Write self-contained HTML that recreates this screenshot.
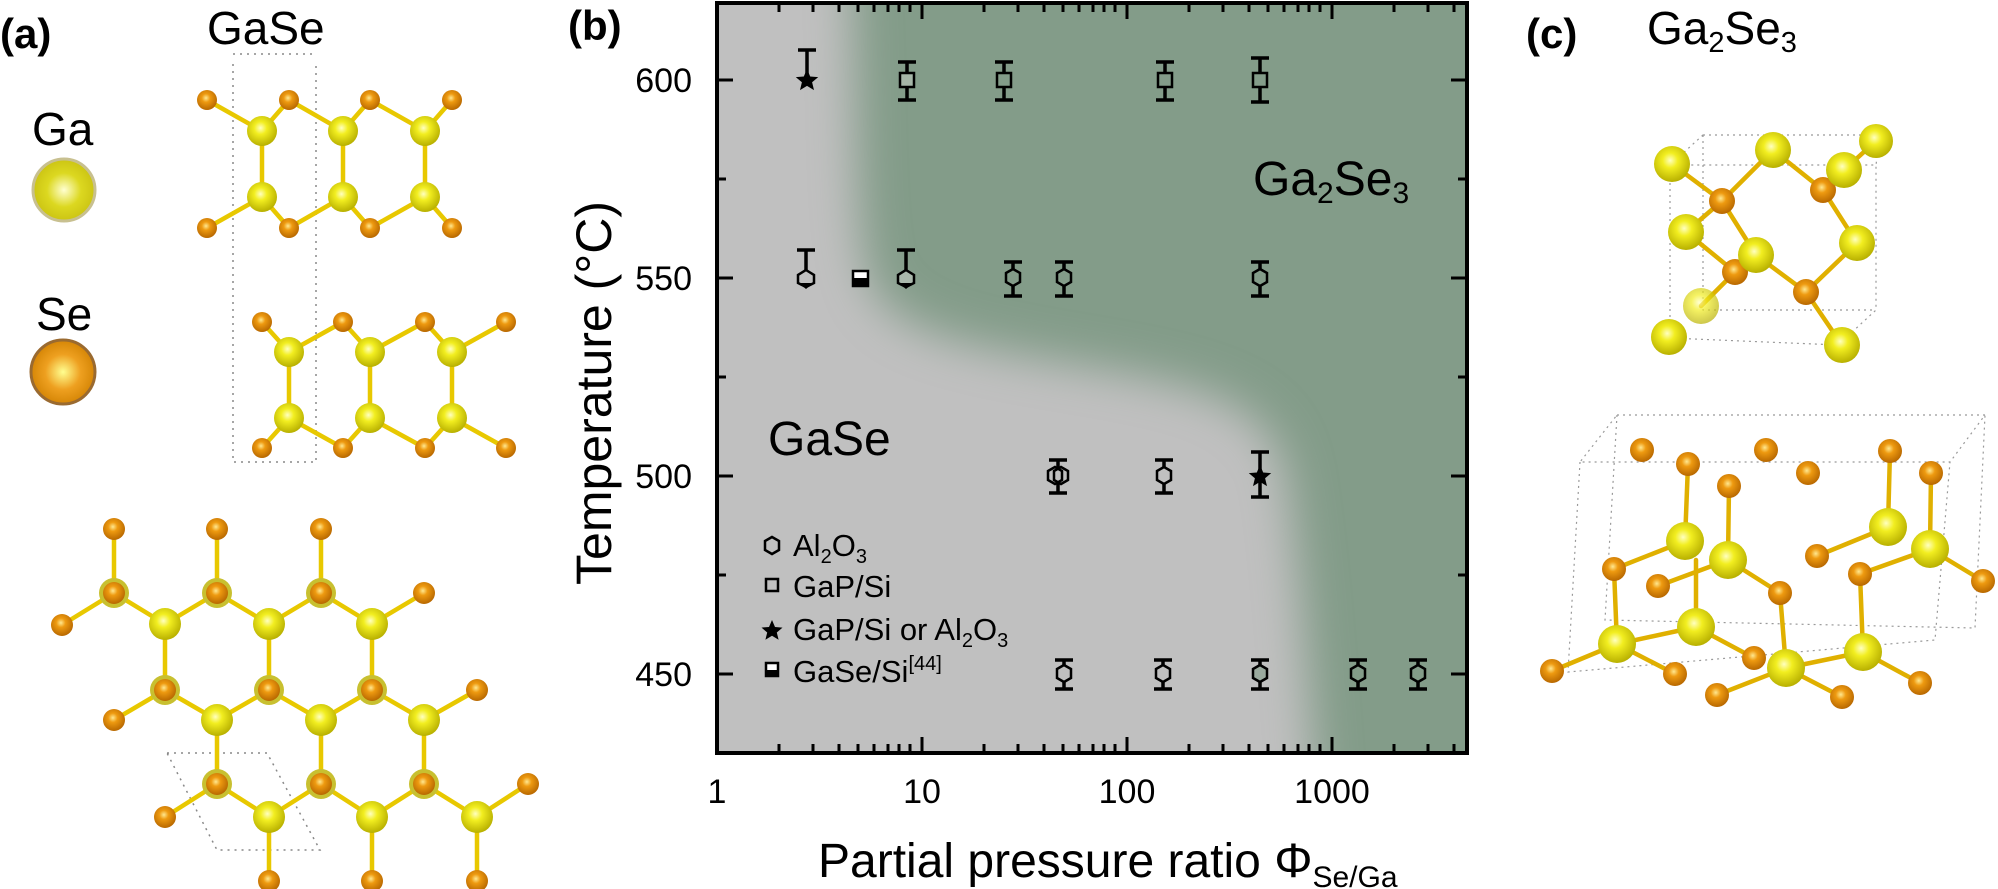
<!DOCTYPE html>
<html><head><meta charset="utf-8"><style>
html,body{margin:0;padding:0;background:#fff;}
svg{display:block;font-family:"Liberation Sans",Arial,sans-serif;}
</style></head><body>
<svg width="1998" height="889" viewBox="0 0 1998 889" xmlns="http://www.w3.org/2000/svg">
<defs>
<radialGradient id="ga" cx="0.45" cy="0.4" r="0.6"><stop offset="0" stop-color="#ffffc0"/><stop offset="0.35" stop-color="#f2ee20"/><stop offset="1" stop-color="#b8b000"/></radialGradient>
<radialGradient id="se" cx="0.45" cy="0.4" r="0.6"><stop offset="0" stop-color="#ffe890"/><stop offset="0.35" stop-color="#ee9a10"/><stop offset="1" stop-color="#b86800"/></radialGradient>
<radialGradient id="gaL" cx="0.5" cy="0.5" r="0.55"><stop offset="0" stop-color="#ffffd0"/><stop offset="0.5" stop-color="#dcd820"/><stop offset="1" stop-color="#c8c010"/></radialGradient>
<radialGradient id="seL" cx="0.5" cy="0.5" r="0.55"><stop offset="0" stop-color="#ffff90"/><stop offset="0.5" stop-color="#eea020"/><stop offset="1" stop-color="#d08000"/></radialGradient>
<filter id="bl" x="-0.3" y="-0.3" width="1.6" height="1.6"><feGaussianBlur stdDeviation="22"/></filter>
<clipPath id="fr"><rect x="717" y="3" width="750" height="750"/></clipPath>
</defs>

<!-- Panel (a) -->
<text x="0" y="48" font-size="42" font-weight="bold">(a)</text>
<text x="207" y="44" font-size="46">GaSe</text>
<text x="32" y="145" font-size="46">Ga</text>
<circle cx="64" cy="190" r="31" fill="url(#gaL)" stroke="#c8c090" stroke-width="3"/>
<text x="36" y="330" font-size="46">Se</text>
<circle cx="63" cy="372" r="32" fill="url(#seL)" stroke="#9a6a30" stroke-width="3"/>
<g fill="none" stroke="#888" stroke-width="1.5" stroke-dasharray="2,5">
<path d="M233 54 H312 M233 64 V462 H316 V64"/>
<path d="M167 753 H267 L320 850 H217 Z"/>
</g>
<g stroke="#e8c800" stroke-width="4.5" stroke-linecap="round" fill="none">
<path d="M207 100 L262 131 L289 100 L343 131 L370 100 L425 131 L452 100 M262 131 V197 M343 131 V197 M425 131 V197 M207 228 L262 197 L289 228 L343 197 L370 228 L425 197 L452 228"/>
<path d="M262 322 L289 352 L343 322 L370 352 L425 322 L452 352 L506 322 M289 352 V418 M370 352 V418 M452 352 V418 M262 448 L289 418 L343 448 L370 418 L425 448 L452 418 L506 448"/>
<path d="M114 529 L114 593 M217 529 L217 593 M321 529 L321 593 M114 593 L62 625 M114 593 L165 624 L217 593 L269 624 L321 593 L372 624 L424 593 M165 624 L165 690 M269 624 L269 690 M372 624 L372 690 M165 690 L114 720 M165 690 L217 720 L269 690 L321 720 L372 690 L424 720 L477 690 M217 720 L217 784 M321 720 L321 784 M424 720 L424 784 M217 784 L165 817 M217 784 L269 817 L321 784 L372 817 L424 784 L477 817 L528 784 M269 817 V881 M372 817 V881 M477 817 V881"/>
</g>
<g fill="url(#ga)">
<circle cx="262" cy="131" r="15"/><circle cx="343" cy="131" r="15"/><circle cx="425" cy="131" r="15"/>
<circle cx="262" cy="197" r="15"/><circle cx="343" cy="197" r="15"/><circle cx="425" cy="197" r="15"/>
<circle cx="289" cy="352" r="15"/><circle cx="370" cy="352" r="15"/><circle cx="452" cy="352" r="15"/>
<circle cx="289" cy="418" r="15"/><circle cx="370" cy="418" r="15"/><circle cx="452" cy="418" r="15"/>
<circle cx="165" cy="624" r="16"/><circle cx="269" cy="624" r="16"/><circle cx="372" cy="624" r="16"/>
<circle cx="217" cy="720" r="16"/><circle cx="321" cy="720" r="16"/><circle cx="424" cy="720" r="16"/>
<circle cx="269" cy="817" r="16"/><circle cx="372" cy="817" r="16"/><circle cx="477" cy="817" r="16"/>
</g>
<g fill="#c8c030">
<circle cx="114" cy="593" r="15"/><circle cx="217" cy="593" r="15"/><circle cx="321" cy="593" r="15"/>
<circle cx="165" cy="690" r="15"/><circle cx="269" cy="690" r="15"/><circle cx="372" cy="690" r="15"/>
<circle cx="217" cy="784" r="15"/><circle cx="321" cy="784" r="15"/><circle cx="424" cy="784" r="15"/>
</g>
<g fill="url(#se)">
<circle cx="207" cy="100" r="10"/><circle cx="289" cy="100" r="10"/><circle cx="370" cy="100" r="10"/><circle cx="452" cy="100" r="10"/>
<circle cx="207" cy="228" r="10"/><circle cx="289" cy="228" r="10"/><circle cx="370" cy="228" r="10"/><circle cx="452" cy="228" r="10"/>
<circle cx="262" cy="322" r="10"/><circle cx="343" cy="322" r="10"/><circle cx="425" cy="322" r="10"/><circle cx="506" cy="322" r="10"/>
<circle cx="262" cy="448" r="10"/><circle cx="343" cy="448" r="10"/><circle cx="425" cy="448" r="10"/><circle cx="506" cy="448" r="10"/>
<circle cx="114" cy="593" r="11"/><circle cx="217" cy="593" r="11"/><circle cx="321" cy="593" r="11"/>
<circle cx="165" cy="690" r="11"/><circle cx="269" cy="690" r="11"/><circle cx="372" cy="690" r="11"/>
<circle cx="217" cy="784" r="11"/><circle cx="321" cy="784" r="11"/><circle cx="424" cy="784" r="11"/>
<circle cx="114" cy="529" r="11"/><circle cx="217" cy="529" r="11"/><circle cx="321" cy="529" r="11"/>
<circle cx="62" cy="625" r="11"/><circle cx="424" cy="593" r="11"/><circle cx="114" cy="720" r="11"/><circle cx="477" cy="690" r="11"/>
<circle cx="165" cy="817" r="11"/><circle cx="528" cy="784" r="11"/>
<circle cx="269" cy="881" r="11"/><circle cx="372" cy="881" r="11"/><circle cx="477" cy="881" r="11"/>
</g>

<!-- Panel (b) -->
<text x="568" y="40" font-size="42" font-weight="bold">(b)</text>
<g clip-path="url(#fr)">
<rect x="717" y="3" width="750" height="750" fill="#839c89"/>
<path filter="url(#bl)" fill="#c0c0c0" d="M600 -100 H845 C860 60 850 200 868 275 C885 330 960 345 1080 365 C1200 385 1265 400 1285 470 C1300 560 1305 650 1325 900 H600 Z"/>
</g>
<rect x="717" y="3" width="750" height="750" fill="none" stroke="#000" stroke-width="4"/>
<g stroke="#000" stroke-width="3" fill="none">
<path d="M717 80 h16 M717 278 h16 M717 476 h16 M717 674 h16 M717 179 h9 M717 377 h9 M717 575 h9"/>
<path d="M1467 80 h-16 M1467 278 h-16 M1467 476 h-16 M1467 674 h-16 M1467 179 h-9 M1467 377 h-9 M1467 575 h-9"/>
<path d="M922 753 v-16 M1127 753 v-16 M1332 753 v-16 M922 3 v16 M1127 3 v16 M1332 3 v16"/>
<path d="M779 753v-9M813 753v-9M839 753v-9M858 753v-9M874 753v-9M888 753v-9M899 753v-9M910 753v-9
M984 753v-9M1018 753v-9M1044 753v-9M1063 753v-9M1079 753v-9M1093 753v-9M1104 753v-9M1115 753v-9
M1189 753v-9M1223 753v-9M1249 753v-9M1268 753v-9M1284 753v-9M1298 753v-9M1309 753v-9M1320 753v-9
M1394 753v-9M1428 753v-9M1454 753v-9
M779 3v9M813 3v9M839 3v9M858 3v9M874 3v9M888 3v9M899 3v9M910 3v9
M984 3v9M1018 3v9M1044 3v9M1063 3v9M1079 3v9M1093 3v9M1104 3v9M1115 3v9
M1189 3v9M1223 3v9M1249 3v9M1268 3v9M1284 3v9M1298 3v9M1309 3v9M1320 3v9
M1394 3v9M1428 3v9M1454 3v9"/>
</g>
<g font-size="34" text-anchor="end">
<text x="692" y="92">600</text><text x="692" y="290">550</text><text x="692" y="488">500</text><text x="692" y="686">450</text>
</g>
<g font-size="34" text-anchor="middle">
<text x="717" y="803">1</text><text x="922" y="803">10</text><text x="1127" y="803">100</text><text x="1332" y="803">1000</text>
</g>
<text x="818" y="877" font-size="48">Partial pressure ratio Φ<tspan font-size="30" dy="10">Se/Ga</tspan></text>
<text transform="translate(611,393) rotate(-90)" font-size="50" text-anchor="middle">Temperature (°C)</text>
<text x="768" y="455" font-size="48">GaSe</text>
<text x="1253" y="195" font-size="48">Ga<tspan font-size="30" dy="8">2</tspan><tspan dy="-8">Se</tspan><tspan font-size="30" dy="8">3</tspan></text>

<!-- error bars -->
<g stroke="#000" stroke-width="3.5" fill="none">
<path d="M807 50V80M798 50h18"/>
<path d="M907 62V100M898 62h18M898 100h18 M1004 62V100M995 62h18M995 100h18 M1165 62V100M1156 62h18M1156 100h18 M1260 58V102M1251 58h18M1251 102h18"/>
<path d="M806 250V278M797 250h18 M906 250V278M897 250h18"/>
<path d="M1013 262V296M1004 262h18M1004 296h18 M1064 262V296M1055 262h18M1055 296h18 M1260 262V296M1251 262h18M1251 296h18"/>
<path d="M1058 460V493M1049 460h18M1049 493h18 M1164 460V493M1155 460h18M1155 493h18 M1260 452V497M1251 452h18M1251 497h18"/>
<path d="M1064 660V689M1055 660h18M1055 689h18 M1163 660V689M1154 660h18M1154 689h18 M1260 660V689M1251 660h18M1251 689h18 M1358 660V689M1349 660h18M1349 689h18 M1418 660V689M1409 660h18M1409 689h18"/>
</g>
<!-- markers -->
<g stroke="#000" stroke-width="2.5">
<g fill="#839c89"><path d="M1013 269l7 4v9l-7 4l-7-4v-9z M1064 269l7 4v9l-7 4l-7-4v-9z"/></g>
<g fill="#839c89"><path d="M1260 269l7 4v9l-7 4l-7-4v-9z"/></g>
<g fill="#c0c0c0"><path d="M1055 467l7 4v9l-7 4l-7-4v-9z M1061 467l7 4v9l-7 4l-7-4v-9z M1164 467l7 4v9l-7 4l-7-4v-9z"/></g>
<g fill="#c0c0c0"><path d="M1064 665l7 4v9l-7 4l-7-4v-9z M1163 665l7 4v9l-7 4l-7-4v-9z"/></g>
<g fill="#9aaa9e"><path d="M1260 665l7 4v9l-7 4l-7-4v-9z"/></g>
<g fill="#839c89"><path d="M1358 665l7 4v9l-7 4l-7-4v-9z M1418 665l7 4v9l-7 4l-7-4v-9z"/></g>
<g fill="#c0c0c0"><path d="M806 270l8 5v8l-8 4l-8-4v-8z"/></g>
<g fill="#aab8ac"><path d="M906 270l8 5v8l-8 4l-8-4v-8z"/></g>
<g fill="#a6b6a8"><rect x="900" y="73" width="14" height="14"/></g>
<g fill="#839c89"><rect x="997" y="73" width="14" height="14"/><rect x="1158" y="73" width="14" height="14"/><rect x="1253" y="73" width="14" height="14"/></g>
<rect x="853" y="271" width="15" height="15" fill="#fff"/>
</g>
<rect x="853" y="278" width="15" height="8" fill="#000"/>
<path d="M799 283h14l-7 6z M899 283h14l-7 6z" fill="#000"/>
<path d="M807 69l3.2 7.5 8 .6-6.1 5.2 1.9 7.8-7-4.2-7 4.2 1.9-7.8-6.1-5.2 8-.6z" fill="#000"/>
<path d="M1260 465l3.2 7.5 8 .6-6.1 5.2 1.9 7.8-7-4.2-7 4.2 1.9-7.8-6.1-5.2 8-.6z" fill="#000"/>
<!-- legend -->
<path d="M772 537l7 4v9l-7 4l-7-4v-9z" fill="none" stroke="#000" stroke-width="2.5"/>
<rect x="766" y="579" width="12" height="12" fill="none" stroke="#000" stroke-width="2.5"/>
<path d="M772 620l3 7 7.5 .6-5.7 4.9 1.8 7.3-6.6-4-6.6 4 1.8-7.3-5.7-4.9 7.5-.6z" fill="#000"/>
<rect x="766" y="663" width="12" height="13" fill="#fff" stroke="#000" stroke-width="2.5"/>
<rect x="766" y="670" width="12" height="6" fill="#000"/>
<g font-size="31">
<text x="793" y="556">Al<tspan font-size="20" dy="7">2</tspan><tspan dy="-7">O</tspan><tspan font-size="20" dy="7">3</tspan></text>
<text x="793" y="597">GaP/Si</text>
<text x="793" y="640">GaP/Si or Al<tspan font-size="20" dy="7">2</tspan><tspan dy="-7">O</tspan><tspan font-size="20" dy="7">3</tspan></text>
<text x="793" y="682">GaSe/Si<tspan font-size="20" dy="-12">[44]</tspan></text>
</g>

<!-- Panel (c) -->
<text x="1526" y="48" font-size="42" font-weight="bold">(c)</text>
<text x="1647" y="44" font-size="46">Ga<tspan font-size="29" dy="8">2</tspan><tspan dy="-8">Se</tspan><tspan font-size="29" dy="8">3</tspan></text>
<g fill="none" stroke="#999" stroke-width="1.2" stroke-dasharray="2,4">
<path d="M1703 135 H1880 L1876 165 H1670 Z M1670 165 V338 L1838 345 L1876 310 V165 M1703 135 V310 H1876"/>
<path d="M1617 415 H1985 L1950 462 H1580 Z M1580 462 L1568 672 L1935 640 L1950 462 M1617 415 L1605 620 L1975 628 L1985 415"/>
</g>
<g stroke="#e0b000" stroke-width="4.5" stroke-linecap="round" fill="none">
<path d="M1672 164L1722 201L1773 150M1722 201L1686 232M1722 201L1756 255M1773 150L1823 190L1844 170L1876 141M1823 190L1857 243L1806 292L1756 255M1806 292L1842 345M1686 232L1735 272L1701 306M1735 272L1756 255"/>
<path d="M1688 464L1685 541M1729 486L1728 560M1890 451L1888 527M1931 473L1930 549M1685 541L1614 569M1728 560L1658 586M1728 560L1780 593M1888 527L1817 556M1930 549L1860 574M1930 549L1983 581M1614 569L1617 644M1696 560L1696 627M1780 593L1786 668M1860 574L1863 652M1617 644L1552 671M1617 644L1675 674M1696 627L1617 644M1696 627L1754 658M1786 668L1717 695M1786 668L1842 697M1863 652L1920 683M1863 652L1786 668"/>
</g>
<g fill="url(#se)">
<circle cx="1722" cy="201" r="13"/><circle cx="1823" cy="190" r="13"/><circle cx="1735" cy="272" r="13"/><circle cx="1806" cy="292" r="13"/>
<circle cx="1642" cy="450" r="12"/><circle cx="1766" cy="450" r="12"/><circle cx="1890" cy="451" r="12"/><circle cx="1688" cy="464" r="12"/><circle cx="1808" cy="473" r="12"/><circle cx="1729" cy="486" r="12"/><circle cx="1931" cy="473" r="12"/>
<circle cx="1817" cy="556" r="12"/><circle cx="1614" cy="569" r="12"/><circle cx="1658" cy="586" r="12"/><circle cx="1860" cy="574" r="12"/><circle cx="1983" cy="581" r="12"/><circle cx="1780" cy="593" r="12"/>
<circle cx="1552" cy="671" r="12"/><circle cx="1675" cy="674" r="12"/><circle cx="1754" cy="658" r="12"/><circle cx="1717" cy="695" r="12"/><circle cx="1842" cy="697" r="12"/><circle cx="1920" cy="683" r="12"/>
</g>
<g fill="url(#ga)">
<circle cx="1672" cy="164" r="18"/><circle cx="1773" cy="150" r="18"/><circle cx="1876" cy="141" r="17"/><circle cx="1844" cy="170" r="18"/><circle cx="1686" cy="232" r="18"/><circle cx="1756" cy="255" r="18"/><circle cx="1857" cy="243" r="18"/><circle cx="1701" cy="306" r="18" opacity="0.7"/><circle cx="1669" cy="337" r="18"/><circle cx="1842" cy="345" r="18"/>
<circle cx="1685" cy="541" r="19"/><circle cx="1728" cy="560" r="19"/><circle cx="1888" cy="527" r="19"/><circle cx="1930" cy="549" r="19"/><circle cx="1696" cy="627" r="19"/><circle cx="1617" cy="644" r="19"/><circle cx="1786" cy="668" r="19"/><circle cx="1863" cy="652" r="19"/>
</g>
</svg>
</body></html>
